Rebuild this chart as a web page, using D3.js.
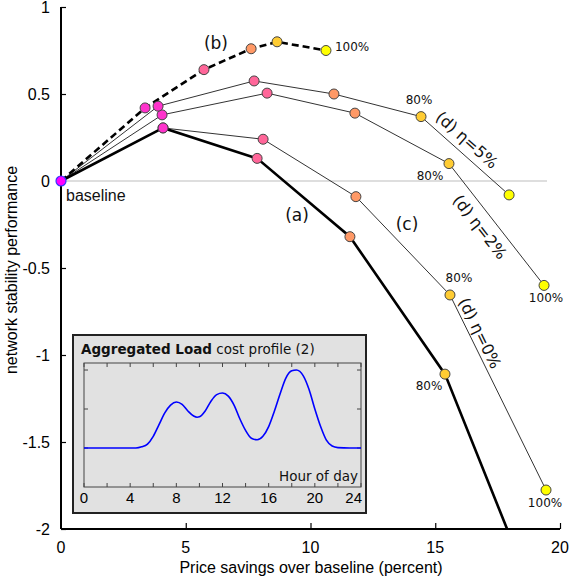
<!DOCTYPE html>
<html><head><meta charset="utf-8">
<script src="https://cdn.jsdelivr.net/npm/d3@7"></script>
<style>body{margin:0;background:#fff}svg{display:block}</style>
</head><body>
<svg id="c" width="571" height="582"></svg>
<script>
// ---- data ----
const levels = [0, 0.2, 0.4, 0.6, 0.8, 1.0];           // share of flexible load (0..100%)
const seriesA   = [[0,0],[4.09,0.305],[7.86,0.13],[11.58,-0.32],[15.39,-1.11],[17.88,-2.0]];
const seriesB   = [[0,0],[3.37,0.42],[5.73,0.64],[7.62,0.76],[8.66,0.80],[10.62,0.75]];
const seriesEta5 = [[0,0],[3.89,0.43],[7.74,0.575],[10.94,0.50],[14.43,0.37],[17.96,-0.08]];
const seriesEta2 = [[0,0],[4.05,0.38],[8.26,0.505],[11.78,0.39],[15.55,0.10],[19.36,-0.60]];
const seriesC    = [[0,0],[4.09,0.305],[8.10,0.24],[11.82,-0.09],[15.59,-0.655],[19.44,-1.776]];
const xTicks = [0,5,10,15,20];
const yTicks = [1,0.5,0,-0.5,-1,-1.5,-2];
const yTickLabels = ["1","0.5","0","-0.5","-1","-1.5","-2"];
// inset load profile (hour, load)
const loadHours = [0,1,2,3,4,4.5,5,5.5,6,6.5,7,7.5,8,8.5,9,9.5,9.8,10,10.5,11,11.5,12,12.5,13,13.5,14,14.5,15,15.5,16,16.5,17,17.5,18,18.4,19,19.5,20,20.5,21,21.5,22,23,24];
const loadVals  = [1,1,1,1,1,1.0,1.03,1.1,1.3,1.6,1.9,2.1,2.18,2.12,1.95,1.82,1.79,1.8,1.95,2.2,2.37,2.41,2.33,2.1,1.75,1.45,1.25,1.21,1.3,1.55,1.95,2.4,2.8,2.98,3.0,2.85,2.5,2.0,1.55,1.2,1.05,1.01,1,1];
const insetXTicks = [0,4,8,12,16,20,24];

// ---- scales ----
const svg = d3.select("#c");
const x = d3.scaleLinear().domain([0,20]).range([61,560]);
const y = d3.scaleLinear().domain([-2,1]).range([529,7]);
const color = d3.scaleLinear().domain([0,1]).range(["#ff00ff","#ffff00"]);
const SANS = "'Liberation Sans', Arial, sans-serif";
const DJ = "'DejaVu Sans', sans-serif";

// zero reference line
svg.append("line").attr("x1",x(0)).attr("x2",547).attr("y1",y(0)).attr("y2",y(0))
  .attr("stroke","#bdbdbd").attr("stroke-width",1.2);

// ---- axes ----
const yAxis = d3.axisRight(y).tickValues(yTicks).tickSize(5).tickFormat("");
const gy = svg.append("g").attr("transform",`translate(${x(0)},0)`).call(yAxis);
const xAxis = d3.axisTop(x).tickValues(xTicks.slice(1)).tickSize(6).tickFormat("");
const gx = svg.append("g").attr("transform",`translate(0,${y(-2)})`).call(xAxis);
[gy,gx].forEach(g=>{g.select(".domain").attr("stroke","#000").attr("stroke-width",2);
  g.selectAll(".tick line").attr("stroke","#000").attr("stroke-width",1.2);});
gy.select(".domain").attr("d",`M0,${y(1)}V${y(-2)}`);
gx.select(".domain").attr("d",`M${x(0)},0H${x(20)}`);

svg.selectAll(".ytl").data(yTicks).enter().append("text")
  .attr("x",50).attr("y",d=>y(d)).attr("dy","0.36em").attr("text-anchor","end")
  .attr("font-family",SANS).attr("font-size",16).text((d,i)=>yTickLabels[i]);
svg.selectAll(".xtl").data(xTicks).enter().append("text")
  .attr("x",d=>x(d)).attr("y",553).attr("text-anchor","middle")
  .attr("font-family",SANS).attr("font-size",16).text(d=>d);
svg.append("text").attr("x",311).attr("y",573).attr("text-anchor","middle")
  .attr("font-family",SANS).attr("font-size",16).text("Price savings over baseline (percent)");
svg.append("text").attr("transform","translate(17,270) rotate(-90)").attr("text-anchor","middle")
  .attr("font-family",SANS).attr("font-size",16).text("network stability performance");

// ---- lines ----
const line = d3.line().x(d=>x(d[0])).y(d=>y(d[1]));
[seriesEta5, seriesEta2, seriesC].forEach(s=>{
  svg.append("path").attr("d",line(s)).attr("fill","none").attr("stroke","#333").attr("stroke-width",1);
});
svg.append("path").attr("d",line(seriesA)).attr("fill","none").attr("stroke","#000").attr("stroke-width",2.6);
svg.append("path").attr("d",line(seriesB)).attr("fill","none").attr("stroke","#000").attr("stroke-width",2.6)
  .attr("stroke-dasharray","7,4");

// ---- markers ----
function markers(s, n){
  s.slice(1, n).forEach((p,i)=>{
    svg.append("circle").attr("cx",x(p[0])).attr("cy",y(p[1])).attr("r",5)
      .attr("fill",color(levels[i+1])).attr("stroke","#444").attr("stroke-width",1);
  });
}
markers(seriesC, 6); markers(seriesEta2, 6); markers(seriesEta5, 6);
markers(seriesA, 5); markers(seriesB, 6);
svg.append("circle").attr("cx",x(0)).attr("cy",y(0)).attr("r",5)
  .attr("fill",color(levels[0])).attr("stroke","#3333ff").attr("stroke-width",1.2);

// ---- annotations ----
function txt(tx,ty,s,opt={}){
  const t = svg.append("text").attr("x",x(tx)).attr("y",y(ty)).attr("dy","0.35em")
    .attr("text-anchor",opt.anchor||"middle").attr("font-family",opt.font||DJ)
    .attr("font-size",opt.size||12).attr("fill","#111").text(s);
  if(opt.rot!==undefined) t.attr("transform",`rotate(${opt.rot},${x(tx)},${y(ty)})`);
  return t;
}
txt(0.2,-0.08,"baseline",{anchor:"start",font:SANS,size:16});
txt(6.21,0.79,"(b)",{size:17});
txt(9.46,-0.195,"(a)",{size:17});
txt(13.87,-0.247,"(c)",{size:17});
txt(16.27,0.236,"(d) η=5%",{size:16,rot:41.5});
txt(16.79,-0.264,"(d) η=2%",{size:16,rot:52});
txt(16.79,-0.874,"(d) η=0%",{size:16,rot:63.8});
txt(10.98,0.77,"100%",{anchor:"start"});
txt(14.35,0.466,"80%");
txt(14.79,0.029,"80%");
txt(15.95,-0.557,"80%");
txt(14.75,-1.178,"80%");
txt(19.44,-0.672,"100%");
txt(19.4,-1.85,"100%");

// ---- inset ----
const inset = svg.append("g");
inset.append("rect").attr("x",73).attr("y",335).attr("width",293).attr("height",178)
  .attr("fill","#e1e1e1").attr("stroke","#222").attr("stroke-width",2);
const ix = d3.scaleLinear().domain([0,24]).range([84,361]);
const iy = d3.scaleLinear().domain([0,3.18]).range([487,363]);
inset.append("rect").attr("x",ix(0)).attr("y",iy(3.18)).attr("width",ix(24)-ix(0)).attr("height",iy(0)-iy(3.18))
  .attr("fill","none").attr("stroke","#444").attr("stroke-width",1);
const hourTicks = d3.range(0,25,2);
hourTicks.forEach(h=>{
  inset.append("line").attr("x1",ix(h)).attr("x2",ix(h)).attr("y1",iy(0)).attr("y2",iy(0)-4).attr("stroke","#444");
  inset.append("line").attr("x1",ix(h)).attr("x2",ix(h)).attr("y1",iy(3.18)).attr("y2",iy(3.18)+4).attr("stroke","#444");
});
[1,2,3].forEach(v=>{
  inset.append("line").attr("x1",ix(0)).attr("x2",ix(0)+4).attr("y1",iy(v)).attr("y2",iy(v)).attr("stroke","#444");
  inset.append("line").attr("x1",ix(24)).attr("x2",ix(24)-4).attr("y1",iy(v)).attr("y2",iy(v)).attr("stroke","#444");
});
const loadData = loadHours.map((h,i)=>[h,loadVals[i]]);
inset.append("path").attr("d",d3.line().x(d=>ix(d[0])).y(d=>iy(d[1])).curve(d3.curveMonotoneX)(loadData))
  .attr("fill","none").attr("stroke","#0000ff").attr("stroke-width",1.6);
insetXTicks.forEach(h=>{
  inset.append("text").attr("x",h===24?ix(h)+1:ix(h)).attr("y",503)
    .attr("text-anchor",h===24?"end":"middle").attr("font-family",SANS).attr("font-size",15).text(h);
});
inset.append("text").attr("x",358).attr("y",481).attr("text-anchor","end")
  .attr("font-family",DJ).attr("font-size",13.5).attr("fill","#111").text("Hour of day");
const tt = inset.append("text").attr("x",81).attr("y",354).attr("font-family",DJ).attr("font-size",13.5).attr("fill","#111");
tt.append("tspan").attr("font-weight","bold").text("Aggregated Load");
tt.append("tspan").text(" cost profile (2)");
</script>
</body></html>
